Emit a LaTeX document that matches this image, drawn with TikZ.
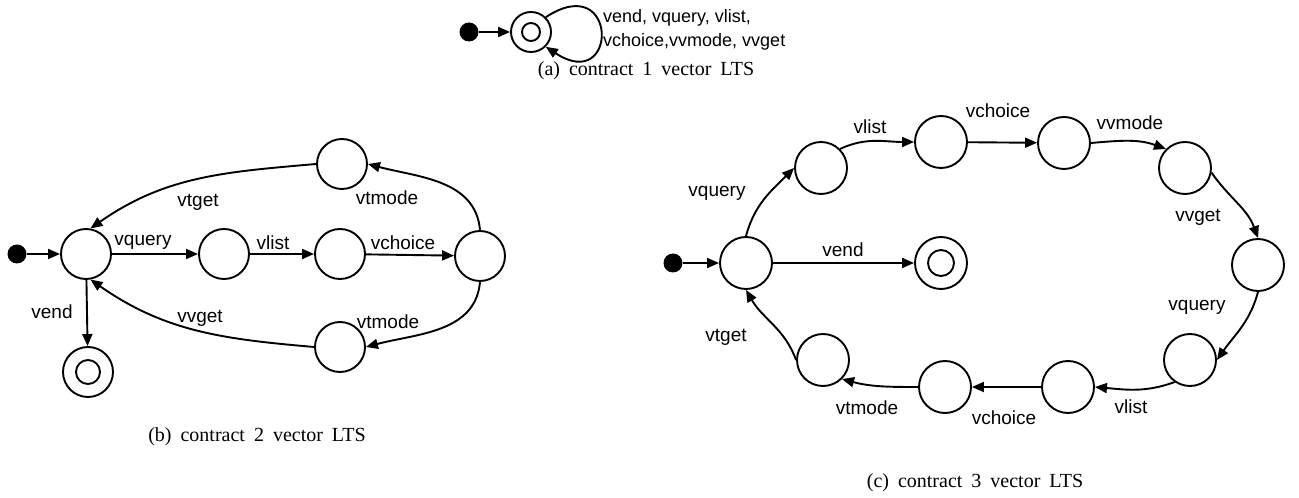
\documentclass[tikz,border=0pt]{standalone}
\usepackage{fontspec}
\setmainfont{Liberation Serif}
\setsansfont{Liberation Sans}
\usetikzlibrary{arrows.meta}

\begin{document}
\begin{tikzpicture}[x=10pt, y=10pt,
	state/.style={draw, circle, line width=1.9pt, minimum size=#1, inner sep=0pt},
	state/.default=50pt,
	start/.style={circle, fill=black, minimum size=19pt, inner sep=0pt},
	trans/.style={-{Triangle[length=12pt,width=10pt]}, line width=1.9pt},
	lbl/.style={font=\sffamily\fontsize{19}{22}\selectfont, inner sep=0pt},
	capt/.style={font=\rmfamily\fontsize{20}{24}\selectfont, execute at begin node={\spaceskip=0.45em\relax}, inner sep=0pt}]
				\useasboundingbox (0,0) rectangle (129.9,49.8);
				
				\node[start] (d1) at (46.9,46.6) {};
				\node[state=40pt] (s1) at (53.1,46.6) {};
				\draw[line width=1.9pt] (s1) circle (0.9);
				\draw[trans] (d1) -- (s1);
				\draw[trans] (s1.45) .. controls +(7.3,4.8) and +(7.3,-4.8) .. (s1.-45);
				\node[lbl, font=\sffamily\fontsize{18}{24}\selectfont, anchor=west, align=left] (l1) at (60.3,46.8) {vend, vquery, vlist,\\vchoice,vvmode, vvget};
				\node[capt] (c1) at (64.6,42.7) {(a) contract 1 vector LTS};
				
				\node[start] (d2) at (1.7,24.4) {};
				\node[state] (q0) at (8.6,24.4) {};
				\node[state] (q1) at (22.4,24.4) {};
				\node[state] (q2) at (34.0,24.4) {};
				\node[state] (q3) at (48.0,24.2) {};
				\node[state] (q4) at (34.2,33.4) {};
				\node[state] (q5) at (34.0,15.1) {};
				\node[state] (f2) at (8.8,12.6) {};
				\draw[line width=1.9pt] (f2) circle (1.2);
				
				\draw[trans] (d2) -- (q0);
				\draw[trans] (q0) -- (q1);
				\draw[trans] (q1) -- (q2);
				\draw[trans] (q2) -- (q3);
				\draw[trans] (q3.north) to[out=95,in=-15] (q4.east);
				\draw[trans] (q4.west) to[out=185,in=35] (q0.80);
				\draw[trans] (q3.south) to[out=-95,in=15] (q5.east);
				\draw[trans] (q5.west) to[out=175,in=-35] (q0.-80);
				\draw[trans] (q0) -- (f2);
				
				\node[lbl] (b1) at (14.3,25.6) {vquery};
				\node[lbl] (b2) at (27.3,25.5) {vlist};
				\node[lbl] (b3) at (40.3,25.5) {vchoice};
				\node[lbl] (b4) at (38.7,30.0) {vtmode};
				\node[lbl] (b5) at (19.8,29.6) {vtget};
				\node[lbl] (b6) at (38.8,17.6) {vtmode};
				\node[lbl] (b7) at (20.0,18.0) {vvget};
				\node[lbl] (b8) at (5.2,18.6) {vend};
				\node[capt] (c2) at (25.7,6.1) {(b) contract 2 vector LTS};
				
				\node[start] (d3) at (67.3,23.5) {};
				\node[state=52pt] (p0) at (74.6,23.5) {};
				\node[state=52pt] (p1) at (82.1,33.0) {};
				\node[state=52pt] (p2) at (94.1,35.6) {};
				\node[state=52pt] (p3) at (106.4,35.5) {};
				\node[state=52pt] (p4) at (118.5,33.0) {};
				\node[state=52pt] (p5) at (125.8,23.3) {};
				\node[state=52pt] (p6) at (119.0,13.8) {};
				\node[state=52pt] (p7) at (106.8,11.1) {};
				\node[state=52pt] (p8) at (94.5,11.1) {};
				\node[state=52pt] (p9) at (82.3,13.8) {};
				\node[state=52pt] (f3) at (94.1,23.5) {};
				\draw[line width=1.9pt] (f3) circle (1.3);
				
				\draw[trans] (d3) -- (p0);
				\draw[trans] (p0.north) to[out=75,in=225] (p1.west);
				\draw[trans] (p1.45) to[out=25,in=180] (p2.west);
				\draw[trans] (p2) -- (p3);
				\draw[trans] (p3.east) to[out=5,in=160] (p4.135);
				\draw[trans] (p4.-10) to[out=-55,in=110] (p5.north);
				\draw[trans] (p5.south) to[out=-105,in=55] (p6.east);
				\draw[trans] (p6.235) to[out=200,in=-5] (p7.east);
				\draw[trans] (p7) -- (p8);
				\draw[trans] (p8.west) to[out=180,in=-15] (p9.-45);
				\draw[trans] (p9.west) to[out=110,in=-60] (p0.south);
				\draw[trans] (p0) -- (f3);
				
				\node[lbl] (e1) at (71.7,30.5) {vquery};
				\node[lbl] (e2) at (87.0,37.1) {vlist};
				\node[lbl] (e3) at (99.8,38.7) {vchoice};
				\node[lbl] (e4) at (113.0,37.5) {vvmode};
				\node[lbl] (e5) at (119.8,28.1) {vvget};
				\node[lbl] (e6) at (119.7,19.1) {vquery};
				\node[lbl] (e7) at (113.1,9.1) {vlist};
				\node[lbl] (e8) at (100.4,8.0) {vchoice};
				\node[lbl] (e9) at (86.7,9.0) {vtmode};
				\node[lbl] (e10) at (72.6,16.1) {vtget};
				\node[lbl] (e11) at (84.3,24.8) {vend};
				\node[capt] (c3) at (97.5,1.5) {(c) contract 3 vector LTS};
			\end{tikzpicture}
\end{document}
